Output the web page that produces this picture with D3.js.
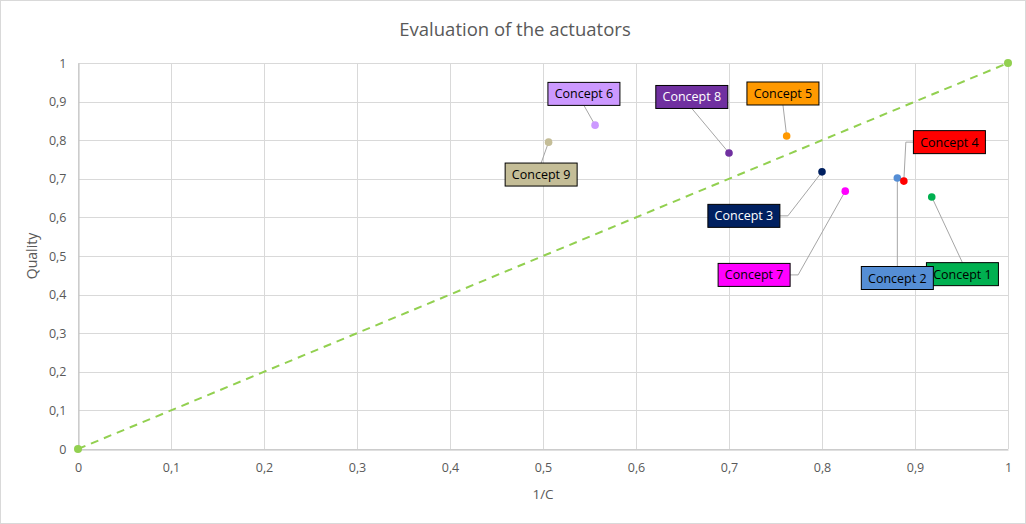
<!DOCTYPE html>
<html>
<head>
<meta charset="utf-8">
<script src="https://cdn.jsdelivr.net/npm/d3@7"></script>
<style>
  body { margin: 0; background: #fff; }
  svg text { font-family: "Open Sans", "Liberation Sans", sans-serif; }
</style>
</head>
<body>
<div id="chart"></div>
<script>
// Concepts: name, 1/C value, quality
const names = ["Concept 1", "Concept 2", "Concept 3", "Concept 4", "Concept 5",
               "Concept 6", "Concept 7", "Concept 8", "Concept 9"];
const invCost = [0.918, 0.881, 0.800, 0.888, 0.762, 0.556, 0.825, 0.700, 0.506];
const quality = [0.653, 0.702, 0.718, 0.694, 0.811, 0.839, 0.668, 0.767, 0.795];
const colors = ["#00B050", "#558ED5", "#002060", "#FF0000", "#FF9900",
                "#CC99FF", "#FF00FF", "#7030A0", "#C4BD97"];
const textColors = ["#000", "#000", "#fff", "#000", "#000", "#000", "#000", "#fff", "#000"];
// label centres, in data units
const labelX = [0.951, 0.881, 0.716, 0.937, 0.758, 0.544, 0.727, 0.660, 0.498];
const labelY = [0.453, 0.443, 0.604, 0.795, 0.921, 0.920, 0.451, 0.912, 0.711];

// reference line 0 -> 1
const refLine = [[0, 0], [1, 1]];
const ticks = [0, 0.1, 0.2, 0.3, 0.4, 0.5, 0.6, 0.7, 0.8, 0.9, 1];

const W = 1026, H = 524;
const margin = { left: 78, right: 18, top: 63, bottom: 75 };

const svg = d3.select("#chart").append("svg")
   .attr("width", W).attr("height", H);

svg.append("rect")
   .attr("x", 0.5).attr("y", 0.5)
   .attr("width", W - 1).attr("height", H - 1)
   .attr("fill", "#fff").attr("stroke", "#D9D9D9");

const x = d3.scaleLinear().domain([0, 1]).range([margin.left, W - margin.right]);
const y = d3.scaleLinear().domain([0, 1]).range([H - margin.bottom, margin.top]);

const fmt = d => d === 0 ? "0" : d === 1 ? "1" : d3.format(".1f")(d).replace(".", ",");

// gridlines
const grid = svg.append("g").attr("stroke", "#D9D9D9").attr("stroke-width", 1);
grid.selectAll("line.h").data(ticks).join("line")
   .attr("x1", x(0)).attr("x2", x(1))
   .attr("y1", d => Math.round(y(d)) + 0.5).attr("y2", d => Math.round(y(d)) + 0.5);
grid.selectAll("line.v").data(ticks).join("line")
   .attr("y1", y(0)).attr("y2", y(1))
   .attr("x1", d => Math.round(x(d)) + 0.5).attr("x2", d => Math.round(x(d)) + 0.5);

// axes
const xAxis = svg.append("g")
   .attr("transform", `translate(0,${Math.round(y(0)) + 0.5})`)
   .call(d3.axisBottom(x).tickValues(ticks).tickFormat(fmt).tickSize(0).tickPadding(14));
const yAxis = svg.append("g")
   .attr("transform", `translate(${Math.round(x(0)) + 0.5},0)`)
   .call(d3.axisLeft(y).tickValues(ticks).tickFormat(fmt).tickSize(0).tickPadding(12));
[xAxis, yAxis].forEach(a => {
   a.select(".domain").attr("stroke", "#BFBFBF");
   a.selectAll("text").attr("fill", "#595959").attr("font-size", 12.5)
      .attr("font-family", "'Open Sans', 'Liberation Sans', sans-serif");
});

// title and axis titles
svg.append("text")
   .attr("x", 515).attr("y", 36)
   .attr("text-anchor", "middle")
   .attr("font-size", 18.5).attr("fill", "#595959")
   .text("Evaluation of the actuators");
svg.append("text")
   .attr("x", x(0.5)).attr("y", 499)
   .attr("text-anchor", "middle")
   .attr("font-size", 13.5).attr("fill", "#595959")
   .text("1/C");
svg.append("text")
   .attr("transform", `translate(37,${y(0.5)}) rotate(-90)`)
   .attr("text-anchor", "middle")
   .attr("font-size", 14).attr("fill", "#595959")
   .text("Quality");

// dashed reference line
svg.append("path")
   .datum(refLine)
   .attr("fill", "none")
   .attr("stroke", "#92D050").attr("stroke-width", 2)
   .attr("stroke-dasharray", "8,6")
   .attr("d", d3.line().x(d => x(d[0])).y(d => y(d[1])));
svg.append("g").selectAll("circle").data(refLine).join("circle")
   .attr("cx", d => x(d[0])).attr("cy", d => y(d[1])).attr("r", 4)
   .attr("fill", "#92D050");

// concepts
const data = names.map((n, i) => ({
   name: n, x: invCost[i], y: quality[i], color: colors[i], text: textColors[i],
   lx: labelX[i], ly: labelY[i]
}));

const boxW = 72, boxH = 23;

// leader lines, Excel-like: to middle of near edge, or elbow to side edge
function leader(d) {
   const px = x(d.x), py = y(d.y);
   const cx = x(d.lx), cy = y(d.ly);
   const left = cx - boxW / 2, right = cx + boxW / 2;
   const top = cy - boxH / 2, bottom = cy + boxH / 2;
   if (d.name === "Concept 4") {
      return `M${px},${py}L${px + 2},${cy}L${left},${cy}`;
   }
   if (px > right + 4 && py < top) {
      // box lower-left of point, elbow to right edge
      return `M${px},${py}L${right + 8},${cy}L${right},${cy}`;
   }
   if (py > bottom) return `M${px},${py}L${cx},${bottom}`;
   if (py < top) return `M${px},${py}L${cx},${top}`;
   return `M${px},${py}L${px < cx ? left : right},${cy}`;
}

svg.append("g").selectAll("path").data(data).join("path")
   .attr("fill", "none").attr("stroke", "#A6A6A6").attr("stroke-width", 1)
   .attr("d", leader);

svg.append("g").selectAll("circle").data(data).join("circle")
   .attr("cx", d => x(d.x)).attr("cy", d => y(d.y)).attr("r", 3.8)
   .attr("fill", d => d.color);

const lab = svg.append("g").selectAll("g").data(data).join("g")
   .attr("transform", d => `translate(${x(d.lx)},${y(d.ly)})`);
lab.append("rect")
   .attr("x", -boxW / 2).attr("y", -boxH / 2)
   .attr("width", boxW).attr("height", boxH)
   .attr("fill", d => d.color).attr("stroke", "#000").attr("stroke-width", 1);
lab.append("text")
   .attr("text-anchor", "middle").attr("dy", "0.36em")
   .attr("font-size", 12.5).attr("fill", d => d.text)
   .text(d => d.name);
</script>
</body>
</html>
